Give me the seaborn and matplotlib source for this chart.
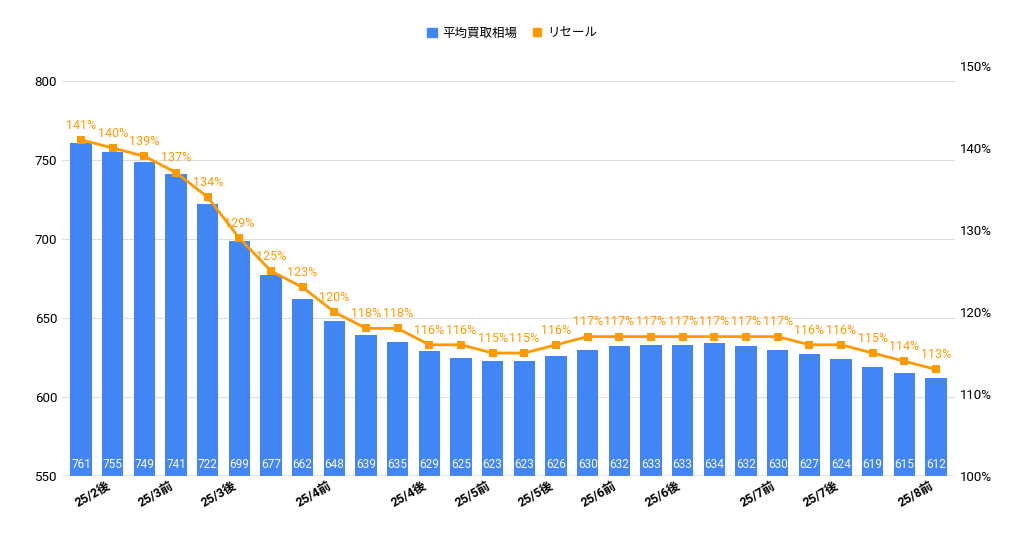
import matplotlib
matplotlib.use("Agg")
import matplotlib.pyplot as plt
import seaborn as sns
import pandas as pd
import numpy as np

plt.rcParams["font.family"] = ["Roboto", "Noto Sans CJK JP"]

periods = ["25/2前","25/2後","25/2後b","25/3前","25/3前b","25/3後","25/3後b","25/3後c","25/4前","25/4前b","25/4前c","25/4後","25/4後b","25/5前","25/5前b","25/5後","25/5後b","25/6前","25/6前b","25/6後","25/6後b","25/6後c","25/7前","25/7前b","25/7後","25/7後b","25/7後c","25/8前"]
tick_labels = ["","25/2後","","25/3前","","25/3後","","","25/4前","","","25/4後","","25/5前","","25/5後","","25/6前","","25/6後","","","25/7前","","25/7後","","","25/8前"]
buy_price = [761,755,749,741,722,699,677,662,648,639,635,629,625,623,623,626,630,632,633,633,634,632,630,627,624,619,615,612]
resale = [141,140,139,137,134,129,125,123,120,118,118,116,116,115,115,116,117,117,117,117,117,117,117,116,116,115,114,113]

df = pd.DataFrame({"period": periods, "buy": buy_price, "resale": resale})
blue = "#4285F4"; orange = "#FF9900"

fig = plt.figure(figsize=(10.24, 5.33), dpi=100)
ax = fig.add_axes([62/1024, 57/533, (955-62)/1024, (476-66)/533])
sns.barplot(data=df, x="period", y="buy", color=blue, width=0.68, ax=ax, saturation=1)
ax.set_ylim(550, 809.5)
ax.set_yticks([550, 600, 650, 700, 750, 800])
ax.grid(axis="y", color="#dddddd", lw=0.8)
ax.set_axisbelow(True)
for i, v in enumerate(buy_price):
    ax.text(i, 553, str(v), ha="center", va="bottom", color="white", fontsize=8.5)
ax.set_xticks(range(len(periods)))
ax.set_xticklabels(tick_labels, rotation=30, ha="right", fontsize=9, fontweight="bold")
ax.tick_params(axis="x", length=0, pad=2)
ax.tick_params(axis="y", length=0, labelsize=9.5)
ax.set_xlabel(""); ax.set_ylabel("")
for s in ax.spines.values():
    s.set_visible(False)
ax.axhline(550, color="#999999", lw=1)

ax2 = ax.twinx()
sns.lineplot(x=np.arange(len(periods)), y=resale, ax=ax2, color=orange, lw=2, marker="s", markersize=6, markeredgewidth=0)
ax2.set_ylim(100, 150)
ax2.set_yticks([100, 110, 120, 130, 140, 150])
ax2.set_yticklabels([f"{t}%" for t in [100,110,120,130,140,150]])
ax2.tick_params(axis="y", length=0, labelsize=9.5)
for s in ax2.spines.values():
    s.set_visible(False)
for i, v in enumerate(resale):
    ax2.text(i, v + 1.0, f"{v}%", ha="center", va="bottom", color=orange, fontsize=9)
ax.set_xlim(-0.6, len(periods) - 0.4)

from matplotlib.patches import Patch
from matplotlib.lines import Line2D
handles = [Patch(color=blue, label="平均買取相場"),
           Line2D([], [], color=orange, marker="s", lw=0, markersize=6, label="リセール")]
fig.legend(handles=handles, loc="center", bbox_to_anchor=(0.5, 1 - 33/533), ncol=2, frameon=False,
           fontsize=9, handlelength=0.8, handletextpad=0.4, columnspacing=1.2)
fig.savefig("out.png", dpi=100, facecolor="white")
